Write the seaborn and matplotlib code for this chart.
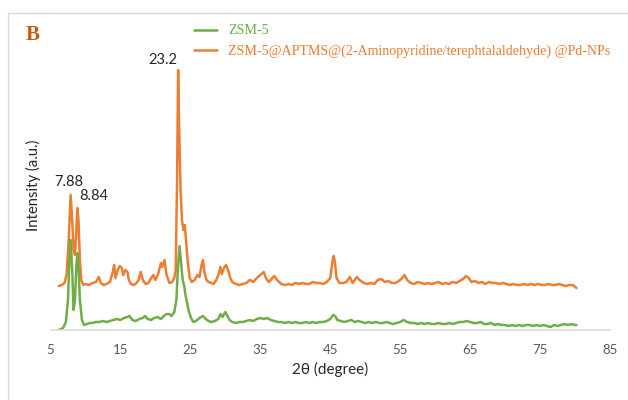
import pandas as pd
import seaborn as sns
import matplotlib.pyplot as plt
from matplotlib.lines import Line2D

sns.set_style("white")
plt.rcParams['font.family'] = ['Lato', 'DejaVu Sans']

# XRD patterns (2 theta in degrees, intensity in a.u.)
two_theta_np = [6.2, 6.6, 7.0, 7.3, 7.6, 7.88, 8.1, 8.3, 8.5, 8.7, 8.84, 9.0, 9.2, 9.4, 9.7,
                10.0, 10.5, 11.0, 11.5, 11.9, 12.2, 12.6, 13.0, 13.5, 13.9, 14.1, 14.3, 14.6,
                14.9, 15.2, 15.4, 15.7, 16.0, 16.2, 16.5, 16.9, 17.3, 17.6, 17.9, 18.2, 18.6,
                19.0, 19.4, 19.7, 20.0, 20.4, 20.8, 21.0, 21.3, 21.6, 22.0, 22.4, 22.7, 22.9,
                23.1, 23.25, 23.4, 23.6, 23.8, 24.0, 24.2, 24.4, 24.6, 24.9, 25.2, 25.6, 26.0,
                26.3, 26.6, 26.8, 27.0, 27.3, 27.6, 28.0, 28.3, 28.7, 29.0, 29.3, 29.5, 29.8,
                30.1, 30.4, 30.7, 31.0, 31.5, 32.0, 32.5, 33.0, 33.5, 34.0, 34.5, 35.0, 35.5,
                35.8, 36.2, 36.6, 37.0, 37.4, 38.0, 38.5, 39.0, 39.5, 40.0, 40.5, 41.0, 41.5,
                42.0, 42.5, 43.0, 43.5, 44.0, 44.5, 45.0, 45.3, 45.5, 45.7, 45.9, 46.3, 46.8,
                47.3, 47.8, 48.2, 48.8, 49.2, 49.8, 50.3, 50.8, 51.3, 51.8, 52.3, 52.8, 53.3,
                53.8, 54.3, 54.8, 55.3, 55.6, 56.0, 56.5, 57.0, 57.5, 58.0, 58.5, 59.0, 59.5,
                60.0, 60.5, 61.0, 61.5, 62.0, 62.5, 63.0, 63.5, 64.0, 64.4, 64.8, 65.2, 65.7,
                66.2, 66.7, 67.2, 67.7, 68.2, 68.7, 69.2, 69.7, 70.2, 70.7, 71.2, 71.7, 72.2,
                72.7, 73.2, 73.7, 74.2, 74.7, 75.2, 75.7, 76.2, 76.7, 77.2, 77.7, 78.2, 78.7,
                79.2, 79.7, 80.2]
intensity_np = [44, 45, 47, 55, 90, 135, 110, 80, 75, 100, 122, 110, 70, 50, 45,
                46, 45, 47, 48, 53, 47, 45, 46, 48, 58, 65, 52, 60,
                64, 62, 55, 60, 58, 50, 46, 45, 47, 50, 58, 50, 46,
                47, 52, 55, 50, 56, 67, 63, 70, 55, 47, 48, 52, 60,
                150, 260, 200, 140, 110, 100, 105, 88, 70, 52, 48, 50, 55,
                53, 65, 70, 58, 50, 48, 47, 46, 50, 55, 63, 56, 62,
                65, 60, 52, 48, 46, 45, 46, 47, 50, 48, 52, 55, 58,
                52, 48, 51, 54, 50, 46, 45, 46, 45, 47, 46, 47, 46,
                46, 48, 47, 47, 46, 48, 52, 68, 74, 66, 52, 47, 47,
                48, 53, 47, 53, 50, 47, 46, 47, 46, 50, 51, 48, 49,
                47, 47, 49, 52, 55, 50, 47, 46, 48, 47, 46, 47, 46,
                47, 48, 46, 47, 46, 48, 47, 49, 51, 54, 52, 48, 49,
                47, 48, 46, 48, 47, 47, 46, 47, 46, 45, 46, 45, 45,
                46, 45, 46, 45, 46, 45, 45, 46, 45, 45, 46, 45, 44,
                45, 45, 42]

two_theta_zsm = [6.2, 6.8, 7.2, 7.5, 7.7, 7.88, 8.1, 8.3, 8.5, 8.7, 8.84, 9.0, 9.2, 9.5, 9.8,
                 10.2, 10.6, 11.0, 11.5, 12.0, 12.5, 13.0, 13.5, 14.0, 14.5, 15.0, 15.5, 16.0,
                 16.3, 16.7, 17.2, 17.7, 18.2, 18.5, 18.9, 19.4, 19.8, 20.3, 20.8, 21.2, 21.6,
                 22.0, 22.3, 22.7, 23.0, 23.2, 23.45, 23.7, 23.9, 24.1, 24.3, 24.5, 24.8, 25.1,
                 25.4, 25.8, 26.3, 26.8, 27.2, 27.6, 28.0, 28.5, 29.0, 29.3, 29.6, 30.0, 30.3,
                 30.6, 31.0, 31.5, 32.0, 32.5, 33.0, 33.5, 34.0, 34.5, 35.0, 35.5, 36.0, 36.5,
                 37.0, 37.5, 38.0, 38.5, 39.0, 39.5, 40.0, 40.5, 41.0, 41.5, 42.0, 42.5, 43.0,
                 43.5, 44.0, 44.5, 45.0, 45.4, 45.7, 46.0, 46.5, 47.0, 47.5, 48.0, 48.5, 49.0,
                 49.5, 50.0, 50.5, 51.0, 51.5, 52.0, 52.5, 53.0, 53.5, 54.0, 54.5, 55.0, 55.5,
                 56.0, 56.5, 57.0, 57.5, 58.0, 58.5, 59.0, 59.5, 60.0, 60.5, 61.0, 61.5, 62.0,
                 62.5, 63.0, 63.5, 64.0, 64.5, 65.0, 65.5, 66.0, 66.5, 67.0, 67.5, 68.0, 68.5,
                 69.0, 69.5, 70.0, 70.5, 71.0, 71.5, 72.0, 72.5, 73.0, 73.5, 74.0, 74.5, 75.0,
                 75.5, 76.0, 76.5, 77.0, 77.5, 78.0, 78.5, 79.0, 79.5, 80.0, 80.2]
intensity_zsm = [0, 2, 8, 30, 70, 90, 60, 20, 30, 65, 77, 65, 30, 10, 5,
                 6, 7, 7, 8, 8, 9, 8, 9, 10, 11, 10, 12, 13,
                 14, 10, 9, 11, 12, 14, 11, 10, 12, 13, 11, 14, 16,
                 16, 14, 18, 30, 60, 84, 65, 50, 45, 35, 28, 18, 12,
                 8, 9, 12, 14, 11, 9, 8, 9, 11, 16, 13, 18, 14,
                 10, 8, 7, 8, 8, 9, 10, 9, 11, 12, 11, 12, 10,
                 9, 8, 8, 7, 8, 7, 8, 7, 7, 8, 7, 8, 7,
                 8, 8, 9, 11, 15, 14, 10, 9, 8, 9, 10, 8, 9,
                 8, 7, 8, 7, 8, 7, 7, 8, 7, 6, 7, 8, 10,
                 8, 7, 7, 6, 7, 6, 7, 6, 6, 7, 6, 6, 7,
                 6, 7, 8, 8, 9, 8, 7, 7, 8, 6, 6, 7, 5,
                 6, 5, 5, 4, 5, 4, 5, 4, 5, 5, 4, 5, 4,
                 5, 4, 3, 5, 4, 5, 6, 5, 6, 5, 5]

peak_labels = ['7.88', '8.84', '23.2']
x_ticks = [5, 15, 25, 35, 45, 55, 65, 75, 85]

label_zsm = 'ZSM-5'
label_np = 'ZSM-5@APTMS@(2-Aminopyridine/terephtalaldehyde) @Pd-NPs'
green = '#70AD47'
orange = '#ED7D31'

df_np = pd.DataFrame({'theta': two_theta_np, 'intensity': intensity_np})
df_zsm = pd.DataFrame({'theta': two_theta_zsm, 'intensity': intensity_zsm})

fig = plt.figure(figsize=(6.28, 4), dpi=100)
ax = fig.add_axes([50.5 / 628, 70 / 400, 559.5 / 628, 290 / 400])

sns.lineplot(data=df_np, x='theta', y='intensity', color=orange, linewidth=1.8,
             label=label_np, ax=ax, sort=False)
sns.lineplot(data=df_zsm, x='theta', y='intensity', color=green, linewidth=1.8,
             label=label_zsm, ax=ax, sort=False)

ax.set_xlim(5, 85)
ax.set_ylim(0, 290)
ax.set_xticks(x_ticks)
ax.set_yticks([])
ax.tick_params(axis='x', length=0, labelsize=9.5, labelcolor='#595959', pad=10)
for side in ['top', 'right', 'left']:
    ax.spines[side].set_visible(False)
ax.spines['bottom'].set_color('#D9D9D9')
ax.spines['bottom'].set_linewidth(1.2)

ax.set_xlabel('2θ (degree)', fontsize=11, color='#262626', labelpad=4)
ax.set_ylabel('Intensity (a.u.)', fontsize=10.7, color='#262626', labelpad=7)

# peak annotations
ax.text(7.6, 148, peak_labels[0], ha='center', va='center', fontsize=10.5)
ax.text(11.2, 134, peak_labels[1], ha='center', va='center', fontsize=10.5)
ax.text(21.1, 270, peak_labels[2], ha='center', va='center', fontsize=10.5)

# legend, serif, coloured text
handles, labels = ax.get_legend_handles_labels()
order = [1, 0]
leg = ax.legend([handles[i] for i in order], [labels[i] for i in order],
                loc='upper left', bbox_to_anchor=(194 / 628, 1 - 24.5 / 400),
                bbox_transform=fig.transFigure, frameon=False, borderpad=0,
                borderaxespad=0, handlelength=1.65, handletextpad=0.8, labelspacing=0.53,
                prop={'family': 'Liberation Serif', 'size': 10.1}, labelcolor='linecolor')

fig.text(32.5 / 628, 1 - 35 / 400, 'B', fontsize=15, fontweight='bold',
         family='Liberation Serif', color='#C55A11', va='center', ha='center')

# chart border (only left and top visible in the crop)
fig.add_artist(Line2D([7.5 / 628, 7.5 / 628], [0, 1 - 12.5 / 400], transform=fig.transFigure,
                      color='#D9D9D9', linewidth=1))
fig.add_artist(Line2D([7.5 / 628, 1], [1 - 12.5 / 400, 1 - 12.5 / 400], transform=fig.transFigure,
                      color='#D9D9D9', linewidth=1))

fig.savefig('out.png', dpi=100)
